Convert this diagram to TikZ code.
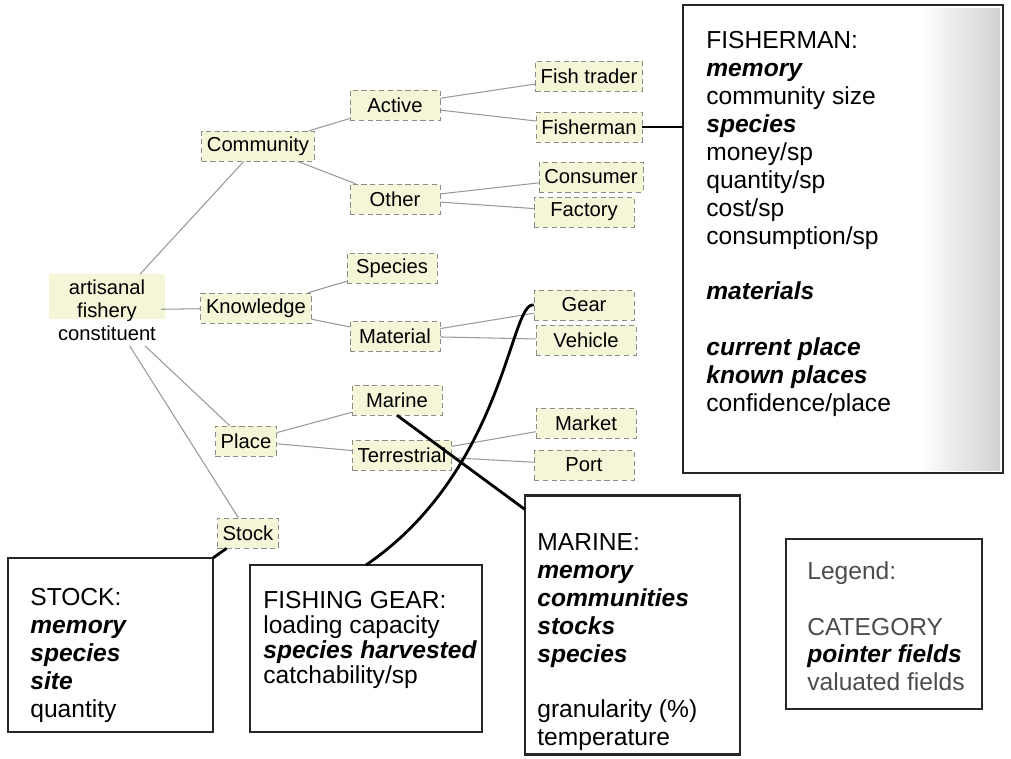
\documentclass[tikz,border=0pt]{standalone}
\usepackage{fontspec}
\setmainfont{Liberation Sans}
\usetikzlibrary{positioning,calc,backgrounds}
\definecolor{tagyellow}{HTML}{F5F5D8}
\newcommand{\ptrf}[1]{\textbf{\textit{#1}}}

\begin{document}
\begin{tikzpicture}
		[x=0.02cm,y=-0.02cm,
		tag/.style={fill=tagyellow,draw=black!45,densely dashed,line width=0.3pt,
			inner xsep=3pt,inner ysep=2pt,minimum height=0.6cm,
			font=\fontsize{11.5}{13}\selectfont},
		mid/.style={tag,minimum width=1.8cm},
		leaf/.style={tag,minimum width=2cm},
		branch/.style={gray!80,line width=0.6pt},
		ptr/.style={black,line width=1.6pt},
		infobox/.style={draw=black!85,line width=1.4pt,inner sep=0pt,outer sep=0pt},
		fields/.style={anchor=north west,inner sep=0pt,align=left,
			font=\fontsize{14}{15.9}\selectfont}]
		\useasboundingbox (0,0) rectangle (1011,758);

		\node[align=center,inner sep=3pt,font=\fontsize{11.5}{13}\selectfont] (afc) at (107,310)
			{artisanal\\fishery\\constituent};
		\begin{scope}[on background layer]
			\fill[tagyellow] ($(afc.north west)+(-4,0)$) rectangle ($(afc.east)+(4,9)$);
		\end{scope}

		\node[tag] (com) at (258,146) {Community};
		\node[tag] (kno) at (256,308) {Knowledge};
		\node[tag] (pla) at (246,441) {Place};
		\node[tag] (sto) at (248,533) {Stock};

		\node[mid] (act) at (395,105) {Active};
		\node[mid] (oth) at (395,199) {Other};
		\node[mid] (spe) at (392,268) {Species};
		\node[mid] (mat) at (395,336) {Material};
		\node[mid] (mar) at (397,400) {Marine};
		\node[mid] (ter) at (402,455) {Terrestrial};

		\node[leaf] (ftr) at (589,76) {Fish trader};
		\node[leaf] (fim) at (589,127) {Fisherman};
		\node[leaf] (con) at (591,177) {Consumer};
		\node[leaf] (fac) at (584,212) {Factory};
		\node[leaf] (gea) at (584,305) {Gear};
		\node[leaf] (veh) at (586,340) {Vehicle};
		\node[leaf] (mkt) at (586,423) {Market};
		\node[leaf] (por) at (584,465) {Port};

		\draw[branch] (afc) -- (com);
		\draw[branch] (afc) -- (kno);
		\draw[branch] (afc) -- (pla);
		\draw[branch] (afc) -- (sto);
		\draw[branch] (com) -- (act);
		\draw[branch] (com) -- (oth);
		\draw[branch] (kno) -- (spe);
		\draw[branch] (kno) -- (mat);
		\draw[branch] (pla) -- (mar);
		\draw[branch] (pla) -- (ter);
		\draw[branch] (act) -- (ftr);
		\draw[branch] (act) -- (fim);
		\draw[branch] (oth) -- (con);
		\draw[branch] (oth) -- (fac);
		\draw[branch] (mat) -- (gea);
		\draw[branch] (mat) -- (veh);
		\draw[branch] (ter) -- (mkt);
		\draw[branch] (ter) -- (por);

		\shade[left color=white,right color=black!18] (920,8) rectangle (1000,470);
		\node[infobox,minimum width=6.4cm,minimum height=9.36cm] (fisherbox) at (843,239) {};
		\node[infobox,minimum width=4.1cm,minimum height=3.48cm] (stockbox) at (110.5,645) {};
		\node[infobox,minimum width=4.64cm,minimum height=3.34cm] (gearbox) at (366,648.5) {};
		\node[infobox,minimum width=4.3cm,minimum height=5.18cm] (marinebox) at (632.5,625) {};
		\node[infobox,minimum width=3.92cm,minimum height=3.4cm] (legendbox) at (884,624) {};

		\node[fields] (fishertext) at (706,31) {FISHERMAN:\\ \ptrf{memory}\\ community size\\
			\ptrf{species}\\ money/sp\\ quantity/sp\\ cost/sp\\ consumption/sp\\[15.9pt]
			\ptrf{materials}\\[15.9pt] \ptrf{current place}\\ \ptrf{known places}\\ confidence/place};
		\node[fields] (stocktext) at (30,588) {STOCK:\\ \ptrf{memory}\\ \ptrf{species}\\
			\ptrf{site}\\ quantity};
		\node[fields,font=\fontsize{14}{14.3}\selectfont] (geartext) at (263,591)
			{FISHING GEAR:\\ loading capacity\\ \ptrf{species harvested}\\ catchability/sp};
		\node[fields] (marinetext) at (537,533) {MARINE:\\ \ptrf{memory}\\ \ptrf{communities}\\
			\ptrf{stocks}\\ \ptrf{species}\\[15.9pt] granularity (\%)\\ temperature};
		\node[fields,text=black!70] (legendtext) at (807,561) {Legend:\\[15.9pt] CATEGORY\\
			\textcolor{black}{\ptrf{pointer fields}}\\ valuated fields};

		\draw[ptr] (fim.east) -- (fim.east -| fisherbox.west);
		\draw[ptr] (sto) -- (stockbox.north east);
		\draw[ptr] (gea.west) .. controls (510,300) and (505,470) .. (gearbox.north);
		\draw[ptr] (mar.south) -- ($(marinebox.north west)+(0,14)$);
\end{tikzpicture}
\end{document}
